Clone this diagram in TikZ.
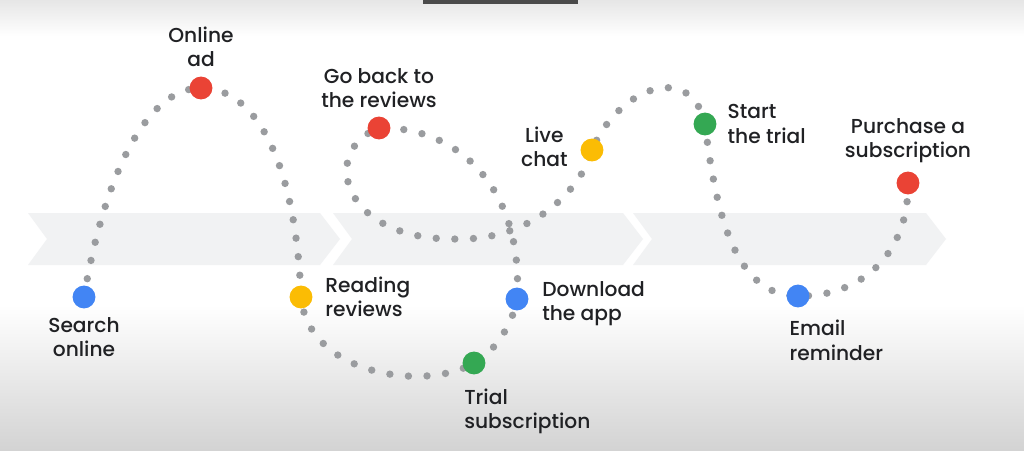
\documentclass[tikz,border=0pt]{standalone}
\usepackage{fontspec}
\setmainfont{Poppins}
\newfontfamily\stopfont{Poppins Medium}
\usepackage{tikz}
\usetikzlibrary{positioning}
\definecolor{gblue}{HTML}{4285F4}
\definecolor{gred}{HTML}{EA4335}
\definecolor{gyellow}{HTML}{FBBC04}
\definecolor{ggreen}{HTML}{34A853}
\definecolor{dotgray}{HTML}{9A9C9F}
\definecolor{bandgray}{HTML}{F1F2F3}
\definecolor{ink}{HTML}{202124}
\definecolor{topgray}{HTML}{E6E6E6}
\definecolor{botgray}{HTML}{D3D3D3}
\definecolor{barcol}{HTML}{4A4A4A}
\pgfdeclarelayer{background}
\pgfsetlayers{background,main}

\begin{document}
\begin{tikzpicture}[
    x=0.02cm, y=-0.02cm,
    stop/.style={circle, inner sep=0pt, minimum size=13pt},
    trail/.style={draw=dotgray, line width=4.2pt, line cap=round, dash pattern=on 0pt off 10.6pt},
    lbl/.style={inner sep=0pt, text=ink, font=\stopfont\fontsize{11.5}{13.7}\selectfont},
    band/.style={fill=bandgray}
]
\useasboundingbox (0,0) rectangle (1024,450);

% stops on the journey
\node[stop, fill=gblue] (search) at (84,297) {};
\node[stop, fill=gred] (onlinead) at (201,88) {};
\node[stop, fill=gyellow] (reading) at (301,297) {};
\node[stop, fill=ggreen] (trial) at (474,363) {};
\node[stop, fill=gblue] (download) at (517,299) {};
\node[stop, fill=gred] (goback) at (379,128) {};
\coordinate (loopbase) at (453,239);
\node[stop, fill=gyellow] (livechat) at (592,150) {};
\node[stop, fill=ggreen] (starttrial) at (705,124) {};
\node[stop, fill=gblue] (email) at (798,296) {};
\node[stop, fill=gred] (purchase) at (908,183) {};

% labels
\node[lbl, align=center, above=5.4pt of onlinead] (onlineadlbl) {Online\\ad};
\node[lbl, align=center, below=4.8pt of search] (searchlbl) {Search\\online};
\node[lbl, align=left, anchor=west] (readinglbl) at ([xshift=7pt]reading.east) {Reading\\reviews};
\node[lbl, align=left, anchor=north west] (triallbl) at ([xshift=-5.7pt,yshift=-7.7pt]trial.south) {Trial\\subscription};
\node[lbl, align=left, anchor=west] (downloadlbl) at ([xshift=7.5pt,yshift=-2.8pt]download.east) {Download\\the app};
\node[lbl, align=center, above=4.8pt of goback] (gobacklbl) {Go back to\\the reviews};
\node[lbl, align=center, anchor=east] (livechatlbl) at ([xshift=-7pt,yshift=2pt]livechat.west) {Live\\chat};
\node[lbl, align=left, anchor=west] (starttriallbl) at ([xshift=6pt]starttrial.east) {Start\\the trial};
\node[lbl, align=left, anchor=north west] (emaillbl) at ([xshift=-5pt,yshift=-7pt]email.south) {Email\\reminder};
\node[lbl, align=center, above=4.8pt of purchase] (purchaselbl) {Purchase a\\subscription};

\begin{pgfonlayer}{background}
% backdrop
\fill[white] (0,0) rectangle (1024,450);
\shade[top color=topgray, bottom color=white] (0,0) rectangle (1024,36);
\shade[top color=white, bottom color=botgray] (0,305) rectangle (1024,450);
\fill[barcol] (423,0) rectangle (578,4);
% chevron band
\foreach \lx/\rx in {28/320, 333/623, 633/926}
  \fill[band] (\lx,213) -- (\rx,213) -- ({\rx+20},239) -- (\rx,265) -- (\lx,265) -- ({\lx+19},239) -- cycle;
% dotted trail
\draw[trail] (search.center) .. controls +(20,-120) and +(-55,0) .. (onlinead.center)
  .. controls +(57,0) and +(-5,-130) .. (reading.center)
  .. controls +(7,78) and +(-49,29) .. (trial.center)
  .. controls +(20,-10) and +(-4,25) .. (download.center)
  .. controls +(7,-109) and +(80,-2) .. (goback.center)
  .. controls +(-59,22) and +(-113,0) .. (loopbase)
  .. controls +(87,3) and +(-7,30) .. (livechat.center)
  .. controls +(26,-62) and +(-14,-64) .. (starttrial.center)
  .. controls +(11,90) and +(-63,0) .. (email.center)
  .. controls +(62,1) and +(1,72) .. (purchase.center);
\end{pgfonlayer}
\end{tikzpicture}
\end{document}
